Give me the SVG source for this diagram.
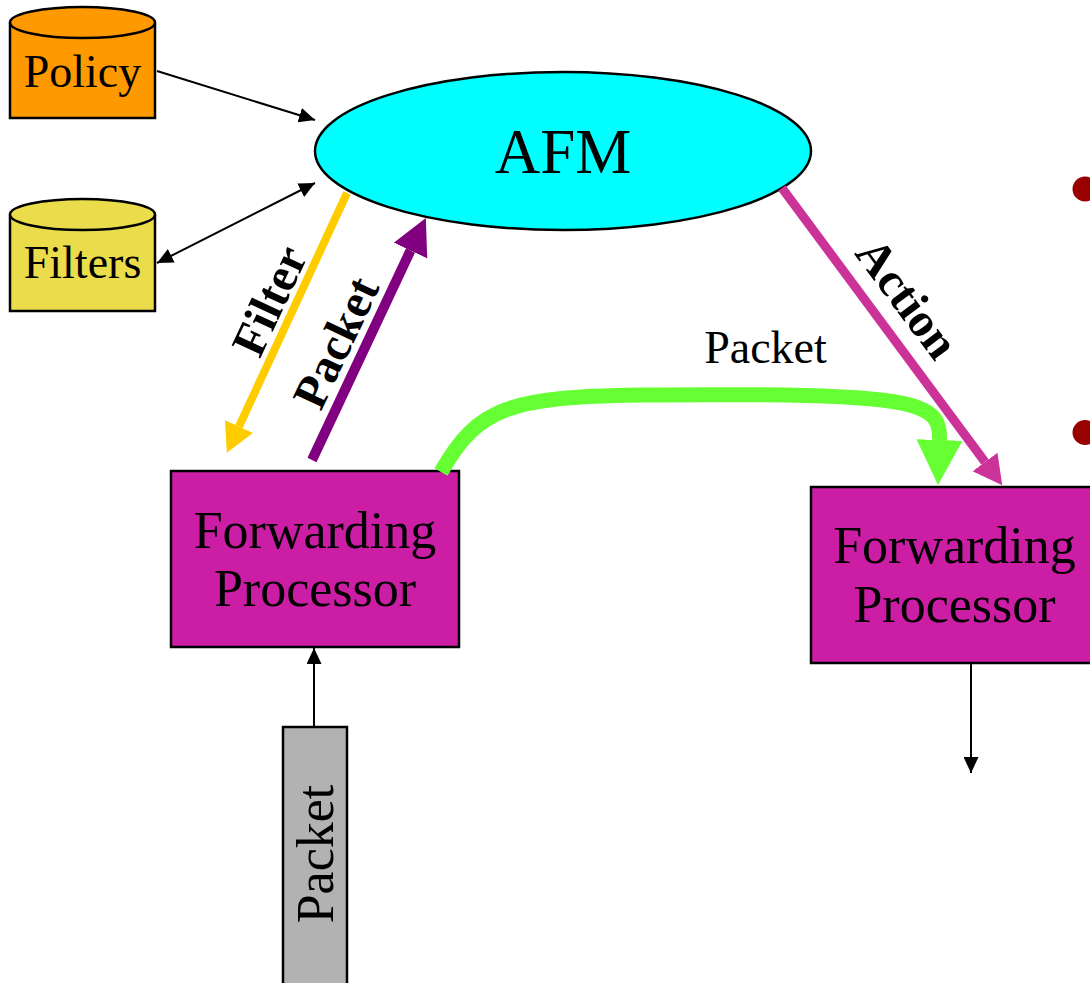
<svg xmlns="http://www.w3.org/2000/svg" width="1090" height="983" viewBox="0 0 1090 983">
<style>
  text { font-family: "Liberation Serif", "Times New Roman", serif; fill: #000; }
  .lbl { font-size: 52px; text-anchor: middle; }
  .cyl { font-size: 46px; text-anchor: middle; }
  .bold { font-size: 48px; font-weight: bold; text-anchor: middle; }
  .box { fill: #CC1EA4; stroke: #000; stroke-width: 2.5; }
  .thin { fill: none; stroke: #000; stroke-width: 2; }
</style>
<defs>
  <marker id="ah" markerUnits="userSpaceOnUse" viewBox="0 0 16 15" refX="16" refY="7.5" markerWidth="16" markerHeight="15" orient="auto-start-reverse">
    <path d="M0,0 L16,7.5 L0,15 z" fill="#000"/>
  </marker>
  <marker id="ahGold" markerUnits="userSpaceOnUse" viewBox="0 -16 30 32" refX="0" refY="0" markerWidth="30" markerHeight="32" orient="auto">
    <path d="M0,-15.5 L29,0 L0,15.5 z" fill="#FFCC00"/>
  </marker>
  <marker id="ahPurple" markerUnits="userSpaceOnUse" viewBox="0 -19 37 38" refX="0" refY="0" markerWidth="37" markerHeight="38" orient="auto">
    <path d="M0,-18.5 L36,0 L0,18.5 z" fill="#800080"/>
  </marker>
  <marker id="ahMag" markerUnits="userSpaceOnUse" viewBox="0 -16 30 32" refX="0" refY="0" markerWidth="30" markerHeight="32" orient="auto">
    <path d="M0,-15.5 L29,0 L0,15.5 z" fill="#CC3399"/>
  </marker>
  <marker id="ahGreen" markerUnits="userSpaceOnUse" viewBox="0 -24 46 48" refX="0" refY="0" markerWidth="46" markerHeight="48" orient="auto">
    <path d="M0,-23 L45,0 L0,23 z" fill="#66FF33"/>
  </marker>
</defs>

<g id="bullets">
  <circle cx="1085" cy="189" r="12.5" fill="#990000"/>
  <circle cx="1085" cy="432.5" r="12.5" fill="#990000"/>
</g>

<g id="policy">
  <path d="M10,22.5 L10,118 L155,118 L155,22.5" fill="#FF9900" stroke="#000" stroke-width="2.5"/>
  <ellipse cx="82.5" cy="22.5" rx="72.5" ry="15.5" fill="#FF9900" stroke="#000" stroke-width="2.5"/>
  <text class="cyl" x="82.5" y="87">Policy</text>
</g>

<g id="filters">
  <path d="M10,214.5 L10,311 L155,311 L155,214.5" fill="#EBDC4B" stroke="#000" stroke-width="2.5"/>
  <ellipse cx="82.5" cy="214.5" rx="72.5" ry="15.5" fill="#EBDC4B" stroke="#000" stroke-width="2.5"/>
  <text class="cyl" x="82.5" y="278">Filters</text>
</g>

<g id="afm">
  <ellipse cx="563" cy="151" rx="248" ry="79" fill="#00FFFF" stroke="#000" stroke-width="2.5"/>
  <text x="563" y="173" style="font-size:63px;text-anchor:middle">AFM</text>
</g>

<g id="fp1">
  <rect class="box" x="171" y="471" width="288" height="176"/>
  <text class="lbl" x="315" y="548">Forwarding</text>
  <text class="lbl" x="315" y="606">Processor</text>
</g>

<g id="fp2">
  <rect class="box" x="811" y="487" width="290" height="176"/>
  <text class="lbl" x="954.5" y="563">Forwarding</text>
  <text class="lbl" x="954.5" y="622">Processor</text>
</g>

<g id="packet-in">
  <rect x="283" y="727" width="64" height="270" fill="#B2B2B2" stroke="#000" stroke-width="2.5"/>
  <text class="lbl" transform="translate(333,854) rotate(-90)" x="0" y="0">Packet</text>
</g>

<g id="connectors">
  <line class="thin" x1="157" y1="71" x2="315" y2="120" marker-end="url(#ah)"/>
  <line class="thin" x1="157" y1="263" x2="315" y2="183" marker-start="url(#ah)" marker-end="url(#ah)"/>
  <line class="thin" x1="314" y1="727" x2="314" y2="648" marker-end="url(#ah)"/>
  <line class="thin" x1="971" y1="663" x2="971" y2="773" marker-end="url(#ah)"/>
  <line x1="347" y1="193" x2="239" y2="426.5" stroke="#FFCC00" stroke-width="8" marker-end="url(#ahGold)"/>
  <line x1="312" y1="460" x2="410.5" y2="250.5" stroke="#800080" stroke-width="10" marker-end="url(#ahPurple)"/>
  <line x1="782" y1="188" x2="985" y2="462" stroke="#CC3399" stroke-width="9" marker-end="url(#ahMag)"/>
  <path d="M441,472 C478,407 510,397 640,395 C760,394 870,394 910,405 C938,413 940,425 939.5,440" fill="none" stroke="#66FF33" stroke-width="15" marker-end="url(#ahGreen)"/>
  <text class="bold" transform="translate(284,307.5) rotate(-65)" x="0" y="0">Filter</text>
  <text class="bold" transform="translate(350.5,349.5) rotate(-64.6)" x="0" y="0">Packet</text>
  <text class="bold" transform="translate(894.5,308) rotate(53.3)" x="0" y="0">Action</text>
  <text x="765.5" y="363" style="font-size:46px;text-anchor:middle">Packet</text>
</g>
</svg>
